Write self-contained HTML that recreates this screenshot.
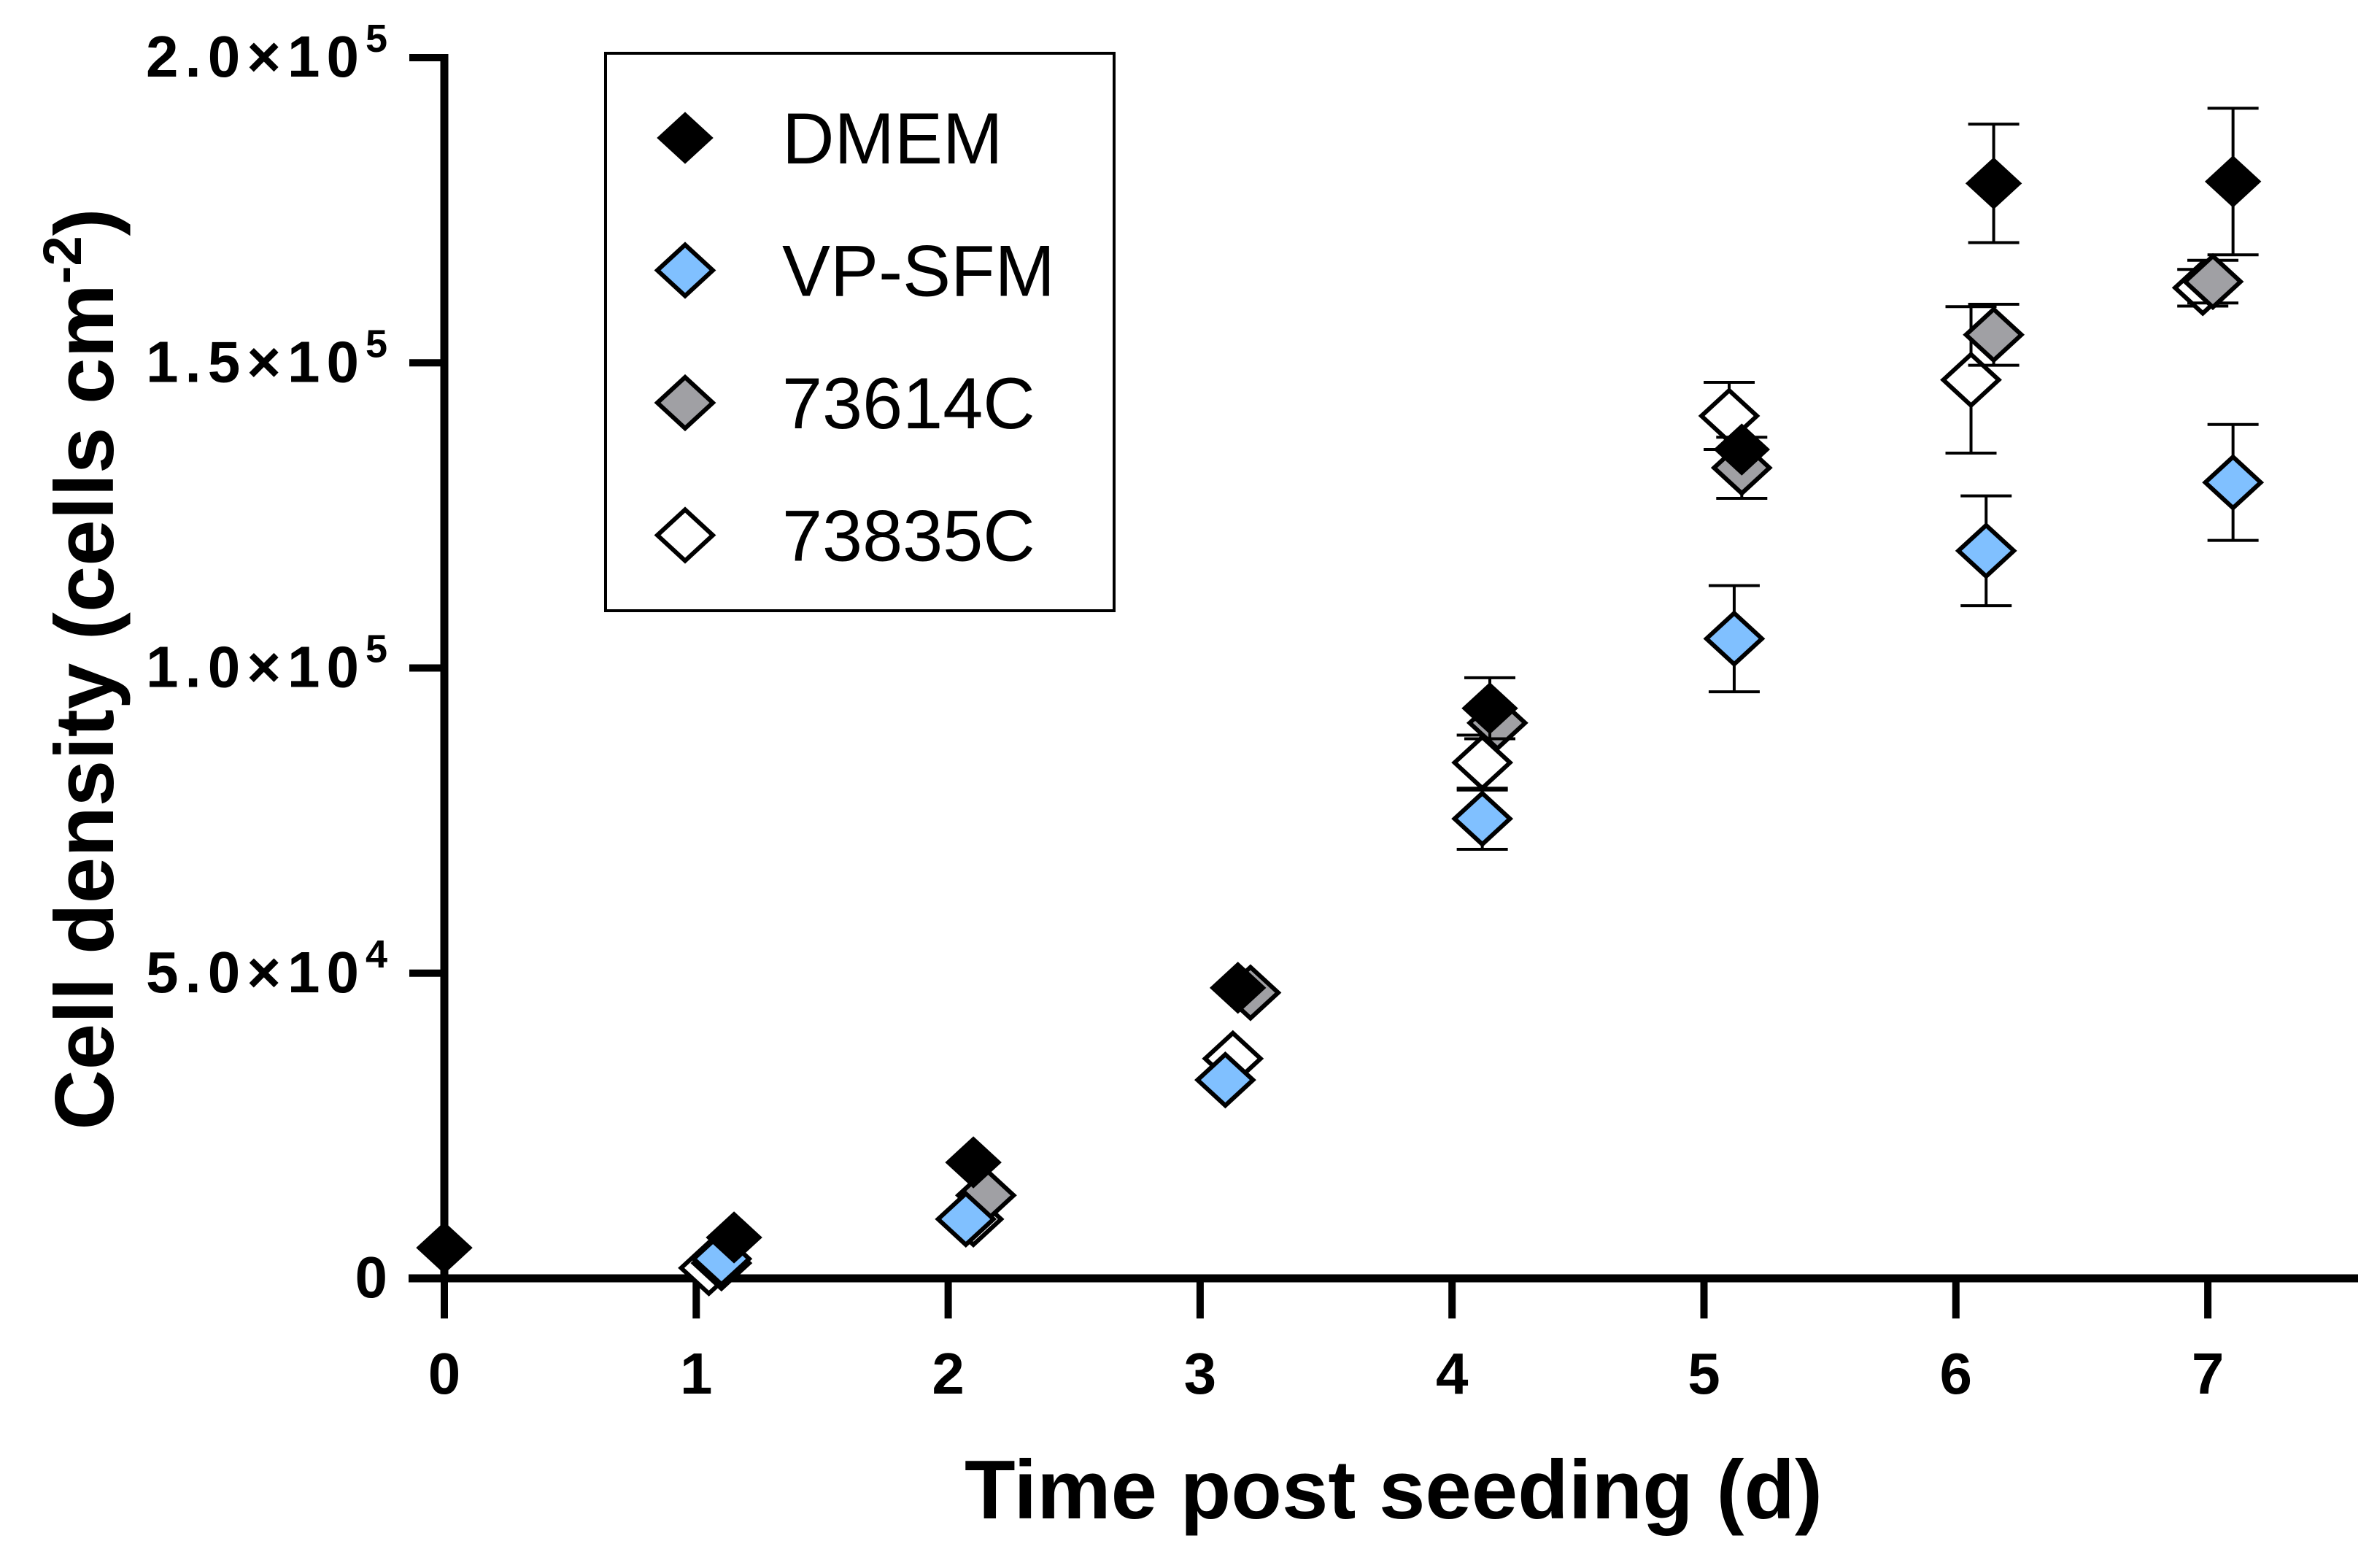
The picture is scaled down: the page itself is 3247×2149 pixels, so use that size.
<!DOCTYPE html>
<html><head><meta charset="utf-8">
<style>
html,body{margin:0;padding:0;background:#fff;}
svg{display:block;font-family:"Liberation Sans",Arial,sans-serif;}
</style></head>
<body>
<svg id="chart" width="3247" height="2149" viewBox="0 0 3247 2149" xmlns="http://www.w3.org/2000/svg">
</svg>
<script>
// ---- data ----
const seriesNames = ["73835C","73614C","VP-SFM","DMEM"];
const days_73835C = [1.05,2.1,3.13,4.12,5.1,6.06,6.98];
const vals_73835C = [1700,9700,36000,84500,141300,147200,162300];
const errs_73835C = [0,0,0,4500,5500,12000,3000];
const days_73614C = [1.1,2.15,3.2,4.18,5.15,6.15,7.02];
const vals_73614C = [2500,13600,46800,91000,132800,154600,163300];
const errs_73614C = [0,0,0,0,5000,5000,3500];
const days_VP = [1.1,2.07,3.1,4.12,5.12,6.12,7.1];
const vals_VP = [3200,9700,32500,75300,104800,119200,130400];
const errs_VP = [0,0,0,5000,8700,9000,9500];
const days_DMEM = [0,1.15,2.1,3.15,4.15,5.15,6.15,7.1];
const vals_DMEM = [5000,6700,19000,47600,93400,135800,179400,179700];
const errs_DMEM = [0,0,0,0,5000,0,9700,12000];
const xTicks = [0,1,2,3,4,5,6,7];
const yTickVals = [0,50000,100000,150000,200000];
const yTickMant = ["0","5.0","1.0","1.5","2.0"];
const yTickExp = ["","4","5","5","5"];

// ---- scales ----
const X0=609, XS=345.3, Y0=1752, YTOP=79;
const xs = d => X0 + d*XS;
const ys = v => Y0 - v/200000*(Y0-YTOP);
const NS="http://www.w3.org/2000/svg";
const svg=document.getElementById('chart');
function mk(tag,attrs,parent){const e=document.createElementNS(NS,tag);for(const k in attrs)e.setAttribute(k,attrs[k]);(parent||svg).appendChild(e);return e;}

// axes
const yAxis=mk('line',{x1:609,y1:74,x2:609,y2:1757,stroke:'#000','stroke-width':11});


const xAxis=mk('line',{x1:560,y1:1752,x2:3232,y2:1752,stroke:'#000','stroke-width':11});



yTickVals.forEach((v,i)=>{
  const y=ys(v);
  const t=mk('line',{x1:561,y1:y,x2:609,y2:y,stroke:'#000','stroke-width':10});
  
  
  const tx=mk('text',{x:540,y:y+26,'text-anchor':'end','font-size':80,'font-weight':'bold','letter-spacing':9});
  
  
  if(yTickExp[i]){
    tx.textContent=yTickMant[i]+'×10';
    const s=mk('tspan',{dy:-34,'font-size':54},tx);s.textContent=yTickExp[i];
  } else tx.textContent=yTickMant[i];
});
xTicks.forEach(d=>{
  const x=xs(d);
  const t=mk('line',{x1:x,y1:1752,x2:x,y2:1807,stroke:'#000','stroke-width':10});
  
  
  const tx=mk('text',{x:x,y:1910,'text-anchor':'middle','font-size':80,'font-weight':'bold'});
  
  
  tx.textContent=d;
});
const xt=mk('text',{x:1910,y:2081,'text-anchor':'middle','font-size':114,'font-weight':'bold'});


xt.textContent='Time post seeding (d)';
const yt=mk('text',{x:0,y:0,'text-anchor':'middle','font-size':114,'font-weight':'bold',transform:'translate(155,917) rotate(-90)'});


yt.textContent='Cell density (cells cm';
const sup=mk('tspan',{dy:-44,'font-size':74},yt);sup.textContent='-2';
const cl=mk('tspan',{dy:44},yt);cl.textContent=')';

// series
const series=[
 {name:'73835C',d:days_73835C,v:vals_73835C,e:errs_73835C,fill:'#ffffff'},
 {name:'73614C',d:days_73614C,v:vals_73614C,e:errs_73614C,fill:'#a0a0a4'},
 {name:'VP-SFM',d:days_VP,v:vals_VP,e:errs_VP,fill:'#80c0ff'},
 {name:'DMEM',d:days_DMEM,v:vals_DMEM,e:errs_DMEM,fill:'#000000'}];
function diamond(cx,cy,fill,parent){
  return mk('polygon',{points:`${cx-38},${cy} ${cx},${cy-35} ${cx+38},${cy} ${cx},${cy+35}`,fill:fill,stroke:'#000','stroke-width':fill==='#000000'?1:6,'stroke-linejoin':'miter'},parent);
}
series.forEach(s=>{
  const g=mk('g',{});
  
  
  s.d.forEach((d,i)=>{
    const x=xs(d), y=ys(s.v[i]);
    if(s.e[i]>0){
      const y1=ys(s.v[i]+s.e[i]), y2=ys(s.v[i]-s.e[i]);
      const eb=mk('path',{d:`M${x},${y1}V${y2}M${x-35},${y1}H${x+35}M${x-35},${y2}H${x+35}`,stroke:'#000','stroke-width':4,fill:'none'},g);
      
      
    }
    const p=diamond(x,y,s.fill,g);
    
    
  });
});

// legend
const lg=mk('g',{});


const box=mk('rect',{x:830,y:73,width:697,height:764,fill:'#fff',stroke:'#000','stroke-width':4},lg);


const legendOrder=['DMEM','VP-SFM','73614C','73835C'];
const legendFill={'DMEM':'#000000','VP-SFM':'#80c0ff','73614C':'#a0a0a4','73835C':'#ffffff'};
legendOrder.forEach((n,i)=>{
  const y=189+i*181.5;
  const e=mk('g',{},lg);
  
  
  diamond(939,y,legendFill[n],e);
  const t=mk('text',{x:1072,y:y+35,'font-size':99},e);
  t.textContent=n;
});
</script>
</body></html>
